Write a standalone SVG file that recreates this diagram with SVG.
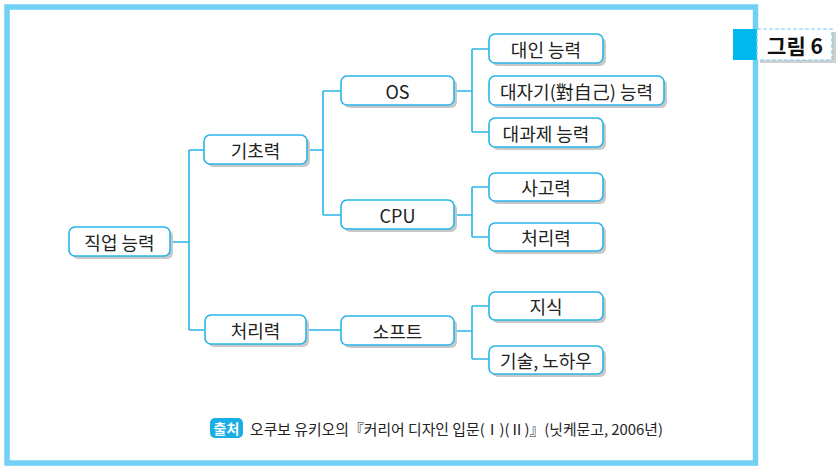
<svg xmlns="http://www.w3.org/2000/svg" width="839" height="466" viewBox="0 0 839 466">
<defs>
<style>
.box{fill:#fff;stroke:#29b5e8;stroke-width:1.6}
.sh{fill:#c8c8c8}
.t{font-family:"Noto Sans CJK KR","Noto Sans",sans-serif;font-size:18px;fill:#222;text-anchor:middle;dominant-baseline:central}
.c{fill:none;stroke:#29b5e8;stroke-width:1.6}
</style>
</defs>
<rect x="0" y="0" width="839" height="466" fill="#fff"/>
<rect x="7" y="7" width="748.5" height="456" fill="none" stroke="#72d0f5" stroke-width="5.5"/>
<g id="title">
<rect x="760" y="32" width="76" height="31" fill="#cfcfcf"/>
<rect x="733" y="29" width="24" height="31" fill="#00b7ee"/>
<rect x="757" y="29" width="75" height="31" fill="#fff" stroke="#72d0f5" stroke-width="1.2" stroke-dasharray="4 2"/>
<text x="795" y="45" font-family="Noto Sans CJK KR,sans-serif" font-size="21" font-weight="bold" fill="#111" text-anchor="middle" dominant-baseline="central">그림 6</text>
</g>
<g id="connectors">
<path class="c" d="M170 242H189M189 150V330M189 150H204M189 330H204"/>
<path class="c" d="M308 150H323M323 91V215M323 91H341M323 215H341"/>
<path class="c" d="M454 91H472M472 49V132M472 49H489M472 132H489"/>
<path class="c" d="M454 215H472M472 187V237M472 187H489M472 237H489"/>
<path class="c" d="M306 330H341"/>
<path class="c" d="M454 331H472M472 306V359M472 306H489M472 359H489"/>
</g>
<g id="n_job"><rect class="sh" x="72" y="230" width="101" height="29" rx="6"/><rect class="box" x="69" y="227" width="101" height="29" rx="6"/><text class="t" x="119.5" y="241.5">직업 능력</text></g>
<g id="n_basic"><rect class="sh" x="207" y="138" width="103" height="29" rx="6"/><rect class="box" x="204" y="135" width="103" height="29" rx="6"/><text class="t" x="255.5" y="149.5">기초력</text></g>
<g id="n_proc1"><rect class="sh" x="208" y="318" width="101" height="29" rx="6"/><rect class="box" x="205" y="315" width="101" height="29" rx="6"/><text class="t" x="255.5" y="329.5">처리력</text></g>
<g id="n_os"><rect class="sh" x="344" y="79" width="113" height="29" rx="6"/><rect class="box" x="341" y="76" width="113" height="29" rx="6"/><text class="t" x="397.5" y="90.5">OS</text></g>
<g id="n_cpu"><rect class="sh" x="344" y="203" width="113" height="29" rx="6"/><rect class="box" x="341" y="200" width="113" height="29" rx="6"/><text class="t" x="397.5" y="214.5">CPU</text></g>
<g id="n_soft"><rect class="sh" x="344" y="319" width="113" height="29" rx="6"/><rect class="box" x="341" y="316" width="113" height="29" rx="6"/><text class="t" x="397.5" y="330.5">소프트</text></g>
<g id="n_inter"><rect class="sh" x="492" y="37" width="114" height="29" rx="6"/><rect class="box" x="489" y="34" width="114" height="29" rx="6"/><text class="t" x="546" y="48.5">대인 능력</text></g>
<g id="n_self"><rect class="sh" x="492" y="79" width="175" height="29" rx="6"/><rect class="box" x="489" y="76" width="175" height="29" rx="6"/><text class="t" x="576.5" y="90.5">대자기(對自己) 능력</text></g>
<g id="n_task"><rect class="sh" x="492" y="121" width="114" height="29" rx="6"/><rect class="box" x="489" y="118" width="114" height="29" rx="6"/><text class="t" x="546" y="132.5">대과제 능력</text></g>
<g id="n_think"><rect class="sh" x="492" y="176" width="114" height="28" rx="6"/><rect class="box" x="489" y="173" width="114" height="28" rx="6"/><text class="t" x="546" y="186.5">사고력</text></g>
<g id="n_proc2"><rect class="sh" x="492" y="226" width="114" height="28" rx="6"/><rect class="box" x="489" y="223" width="114" height="28" rx="6"/><text class="t" x="546" y="236.5">처리력</text></g>
<g id="n_know"><rect class="sh" x="492" y="295" width="114" height="28" rx="6"/><rect class="box" x="489" y="292" width="114" height="28" rx="6"/><text class="t" x="546" y="305.5">지식</text></g>
<g id="n_skill"><rect class="sh" x="492" y="349" width="114" height="28" rx="6"/><rect class="box" x="489" y="346" width="114" height="28" rx="6"/><text class="t" x="546" y="359.5">기술, 노하우</text></g>
<g id="source">
<rect x="210" y="418" width="33" height="20" rx="5" fill="#1aaee6"/>
<text x="226.5" y="428" font-family="Noto Sans CJK KR,sans-serif" font-size="14" font-weight="bold" fill="#fff" text-anchor="middle" dominant-baseline="central">출처</text>
<text x="250" y="428" font-family="Noto Sans CJK KR,sans-serif" font-size="14.5" fill="#222" dominant-baseline="central" textLength="413" lengthAdjust="spacingAndGlyphs">오쿠보 유키오의『커리어 디자인 입문(Ⅰ)(Ⅱ)』(닛케문고, 2006년)</text>
</g>
</svg>
